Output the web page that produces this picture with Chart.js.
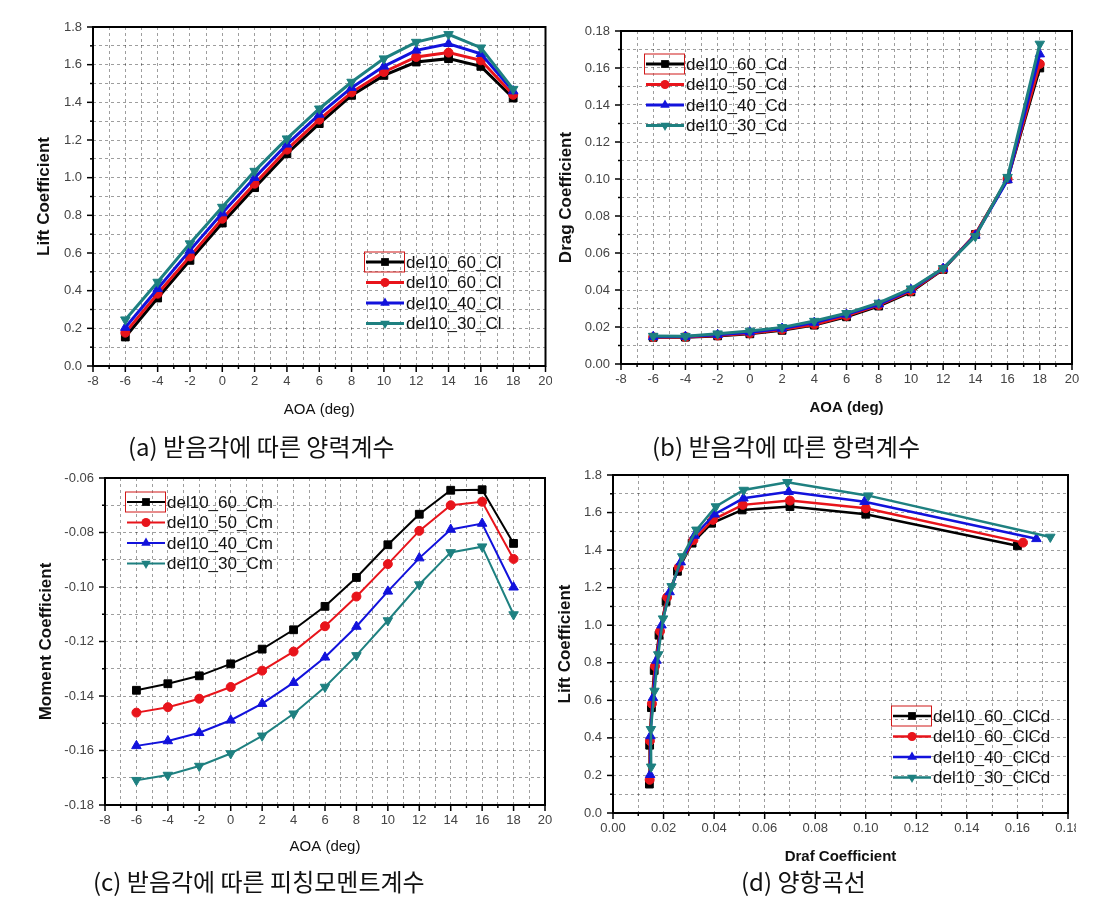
<!DOCTYPE html>
<html>
<head>
<meta charset="utf-8">
<script src="https://cdn.jsdelivr.net/npm/chart.js"></script>
<style>
  body { margin: 0; background: #fff; }
  #page { position: relative; width: 1118px; height: 908px; overflow: hidden; }
  .panel { position: absolute; }
  .cap { position: absolute; font-family: "Noto Sans CJK KR", sans-serif; font-size: 24px; line-height: 24px; color: #111; white-space: nowrap; }
</style>
</head>
<body>
<div id="page">
  <div class="panel" id="boxA" style="left:30px;top:10px;width:522px;height:420px"><canvas id="chartA"></canvas></div>
  <div class="panel" id="boxB" style="left:550px;top:10px;width:550px;height:420px"><canvas id="chartB"></canvas></div>
  <div class="panel" id="boxC" style="left:30px;top:460px;width:530px;height:410px"><canvas id="chartC"></canvas></div>
  <div class="panel" id="boxD" style="left:552px;top:460px;width:524px;height:420px"><canvas id="chartD"></canvas></div>
  <div class="cap" style="left:128px;top:434px">(a) 받음각에 따른 양력계수</div>
  <div class="cap" style="left:652px;top:434px">(b) 받음각에 따른 항력계수</div>
  <div class="cap" style="left:93px;top:869px">(c) 받음각에 따른 피칭모멘트계수</div>
  <div class="cap" style="left:741px;top:869px">(d) 양항곡선</div>
</div>
<script>
// angle of attack (deg)
const aoa = [-6, -4, -2, 0, 2, 4, 6, 8, 10, 12, 14, 16, 18];

// lift coefficient
const cl60 = [0.154, 0.361, 0.561, 0.759, 0.947, 1.127, 1.287, 1.437, 1.543, 1.614, 1.632, 1.591, 1.423];
const cl50 = [0.177, 0.384, 0.582, 0.782, 0.968, 1.149, 1.308, 1.453, 1.561, 1.641, 1.664, 1.623, 1.44];
const cl40 = [0.204, 0.41, 0.614, 0.812, 1.0, 1.177, 1.336, 1.478, 1.591, 1.676, 1.711, 1.658, 1.46];
const cl30 = [0.246, 0.446, 0.65, 0.844, 1.035, 1.207, 1.366, 1.508, 1.632, 1.72, 1.761, 1.69, 1.47];

// drag coefficient
const cd60 = [0.0144, 0.0145, 0.0152, 0.0163, 0.0182, 0.021, 0.0255, 0.0313, 0.039, 0.0511, 0.07, 0.1, 0.16];
const cd50 = [0.0145, 0.0146, 0.0154, 0.0166, 0.0186, 0.0214, 0.026, 0.0318, 0.0395, 0.0513, 0.07, 0.1, 0.1622];
const cd40 = [0.0147, 0.0148, 0.0158, 0.0172, 0.0192, 0.0224, 0.0268, 0.0323, 0.0402, 0.0516, 0.0695, 0.0995, 0.1675];
const cd30 = [0.0151, 0.015, 0.0164, 0.0179, 0.0198, 0.0232, 0.0274, 0.033, 0.0407, 0.0517, 0.069, 0.101, 0.173];

// pitching moment coefficient
const cm60 = [-0.1379, -0.1355, -0.1326, -0.1282, -0.1228, -0.1157, -0.1071, -0.0965, -0.0845, -0.0733, -0.0645, -0.0643, -0.084];
const cm50 = [-0.1461, -0.1441, -0.141, -0.1367, -0.1307, -0.1237, -0.1144, -0.1035, -0.0916, -0.0794, -0.07, -0.0687, -0.0897];
const cm40 = [-0.1583, -0.1565, -0.1535, -0.1489, -0.1428, -0.1351, -0.1258, -0.1145, -0.1016, -0.0894, -0.0789, -0.0767, -0.1001];
const cm30 = [-0.1709, -0.169, -0.1657, -0.1611, -0.1546, -0.1465, -0.1367, -0.1251, -0.1123, -0.0991, -0.0873, -0.0852, -0.1101];

const liftLabels = ["del10_60_Cl", "del10_60_Cl", "del10_40_Cl", "del10_30_Cl"];
const dragLabels = ["del10_60_Cd", "del10_50_Cd", "del10_40_Cd", "del10_30_Cd"];
const momentLabels = ["del10_60_Cm", "del10_50_Cm", "del10_40_Cm", "del10_30_Cm"];
const polarLabels = ["del10_60_ClCd", "del10_60_ClCd", "del10_40_ClCd", "del10_30_ClCd"];

const colors = ["#000000", "#e8141b", "#1212dc", "#1e8080"];
const markers = ["rect", "circle", "triangle", "triangle"];
const markerRot = [0, 0, 0, 180];
const markerSize = [5.5, 4.5, 5.5, 5.5];

Chart.defaults.font.family = "'Liberation Sans', Arial, sans-serif";
Chart.defaults.color = "#444";

function pairs(xs, ys) {
  return xs.map((x, i) => ({ x: x, y: ys[i] }));
}

function makeDatasets(xsList, ysList, labels, lw) {
  return ysList.map((ys, i) => ({
    label: labels[i],
    data: pairs(xsList[i], ys),
    borderColor: colors[i],
    backgroundColor: colors[i],
    borderWidth: lw,
    pointStyle: markers[i],
    pointRotation: markerRot[i],
    pointRadius: markerSize[i],
    pointBorderWidth: 1,
    order: 3 - i,
    tension: 0,
  }));
}

function drawMarker(ctx, i, x, y) {
  const r = markerSize[i];
  ctx.beginPath();
  if (markers[i] === "rect") {
    const s = r * Math.SQRT1_2;
    ctx.rect(x - s, y - s, 2 * s, 2 * s);
  } else if (markers[i] === "circle") {
    ctx.arc(x, y, r, 0, Math.PI * 2);
  } else {
    const d = markerRot[i] ? -1 : 1;
    ctx.moveTo(x, y - d * r);
    ctx.lineTo(x + r * 0.866, y + d * r * 0.5);
    ctx.lineTo(x - r * 0.866, y + d * r * 0.5);
    ctx.closePath();
  }
  ctx.fill();
}

// Origin-like frame, outward tick marks and a legend inside the plot
function originPlugin(leg) {
  return {
    id: "originLook",
    afterDraw(chart) {
      const ctx = chart.ctx;
      const a = chart.chartArea;
      const xs = chart.scales.x;
      const ys = chart.scales.y;
      ctx.save();
      ctx.strokeStyle = "#000";
      ctx.lineWidth = 1.5;
      xs.ticks.forEach((t, k) => {
        const px = xs.getPixelForValue(t.value);
        const len = xs.ticks[k].label !== "" ? 6 : 3;
        ctx.beginPath();
        ctx.moveTo(px, a.bottom);
        ctx.lineTo(px, a.bottom + len);
        ctx.stroke();
      });
      ys.ticks.forEach((t) => {
        const py = ys.getPixelForValue(t.value);
        const len = t.label !== "" ? 6 : 3;
        ctx.beginPath();
        ctx.moveTo(a.left, py);
        ctx.lineTo(a.left - len, py);
        ctx.stroke();
      });
      ctx.lineWidth = 2;
      ctx.strokeRect(a.left, a.top, a.right - a.left, a.bottom - a.top);

      // legend
      const x0 = a.left + leg.x;
      ctx.font = "17px 'Liberation Sans', Arial, sans-serif";
      ctx.textBaseline = "middle";
      chart.data.datasets.forEach((ds, i) => {
        const y = a.top + leg.y + i * 20.5;
        ctx.strokeStyle = colors[i];
        ctx.fillStyle = colors[i];
        ctx.lineWidth = leg.lw;
        ctx.beginPath();
        ctx.moveTo(x0, y);
        ctx.lineTo(x0 + 38, y);
        ctx.stroke();
        drawMarker(ctx, i, x0 + 19, y);
        ctx.fillStyle = "#111";
        ctx.fillText(ds.label, x0 + 40, y + 1);
      });
      ctx.strokeStyle = "#d01818";
      ctx.lineWidth = 1;
      ctx.strokeRect(x0 - 1.5, a.top + leg.y - 10, 40, 20);
      ctx.restore();
    },
  };
}

function axisOpts(min, max, step, major, dec, title, size, pad) {
  return {
    type: "linear",
    min: min,
    max: max,
    afterFit: (s) => {
      if (s.isHorizontal()) s.height = size; else s.width = size;
      s.paddingLeft = 0; s.paddingRight = 0; s.paddingTop = 0; s.paddingBottom = 0;
    },
    ticks: {
      stepSize: step,
      autoSkip: false,
      maxRotation: 0,
      padding: pad,
      font: { size: 13 },
      callback: (v) => {
        const n = Math.round(v / step);
        return Math.abs(n) % major === 0 ? v.toFixed(dec) : "";
      },
    },
    grid: { color: "rgba(0,0,0,0.38)", lineWidth: 1, drawTicks: false },
    border: { display: false, dash: [3, 3] },
    title: title,
  };
}

function makeChart(id, datasets, xAxis, yAxis, padding, leg) {
  return new Chart(document.getElementById(id), {
    type: "line",
    data: { datasets: datasets },
    options: {
      responsive: true,
      maintainAspectRatio: false,
      animation: false,
      layout: { padding: padding },
      plugins: { legend: { display: false }, tooltip: { enabled: false } },
      scales: { x: xAxis, y: yAxis },
    },
    plugins: [originPlugin(leg)],
  });
}

const aoaList = [aoa, aoa, aoa, aoa];

// (a) lift
makeChart(
  "chartA",
  makeDatasets(aoaList, [cl60, cl50, cl40, cl30], liftLabels, 3),
  axisOpts(-8, 20, 1, 2, 0, { display: true, text: "AOA (deg)", color: "#111", font: { size: 15 }, padding: { top: 0, bottom: 11 } }, 64, 8),
  axisOpts(0, 1.8, 0.1, 2, 1, { display: true, text: "Lift Coefficient", color: "#111", font: { size: 17, weight: "bold" }, padding: { top: 4, bottom: 0 } }, 63, 11),
  { top: 17, right: 3, left: 0, bottom: 0 },
  { x: 273, y: 235, lw: 3 }
);

// (b) drag
makeChart(
  "chartB",
  makeDatasets(aoaList, [cd60, cd50, cd40, cd30], dragLabels, 3),
  axisOpts(-8, 20, 1, 2, 0, { display: true, text: "AOA (deg)", color: "#111", font: { size: 15, weight: "bold" }, padding: { top: 0, bottom: 13 } }, 66, 8),
  axisOpts(0, 0.18, 0.01, 2, 2, { display: true, text: "Drag Coefficient", color: "#111", font: { size: 17, weight: "bold" }, padding: { top: 6, bottom: 0 } }, 71, 11),
  { top: 21, right: 28, left: 0, bottom: 0 },
  { x: 25, y: 33, lw: 3 }
);

// (c) pitching moment
makeChart(
  "chartC",
  makeDatasets(aoaList, [cm60, cm50, cm40, cm30], momentLabels, 2),
  axisOpts(-8, 20, 1, 2, 0, { display: true, text: "AOA (deg)", color: "#111", font: { size: 15 }, padding: { top: 0, bottom: 14 } }, 65, 8),
  axisOpts(-0.18, -0.06, 0.01, 2, 2, { display: true, text: "Moment Coefficient", color: "#111", font: { size: 17, weight: "bold" }, padding: { top: 6, bottom: 0 } }, 75, 11),
  { top: 18, right: 15, left: 0, bottom: 0 },
  { x: 22, y: 24, lw: 2 }
);

// (d) drag polar
makeChart(
  "chartD",
  makeDatasets([cd60, cd50, cd40, cd30], [cl60, cl50, cl40, cl30], polarLabels, 2.5),
  axisOpts(0, 0.18, 0.01, 2, 2, { display: true, text: "Draf Coefficient", color: "#111", font: { size: 15, weight: "bold" }, padding: { top: 0, bottom: 14 } }, 67, 8),
  axisOpts(0, 1.8, 0.1, 2, 1, { display: true, text: "Lift Coefficient", color: "#111", font: { size: 17, weight: "bold" }, padding: { top: 3, bottom: 0 } }, 61, 11),
  { top: 15, right: 8, left: 0, bottom: 0 },
  { x: 280, y: 241, lw: 2.5 }
);
</script>
</body>
</html>
